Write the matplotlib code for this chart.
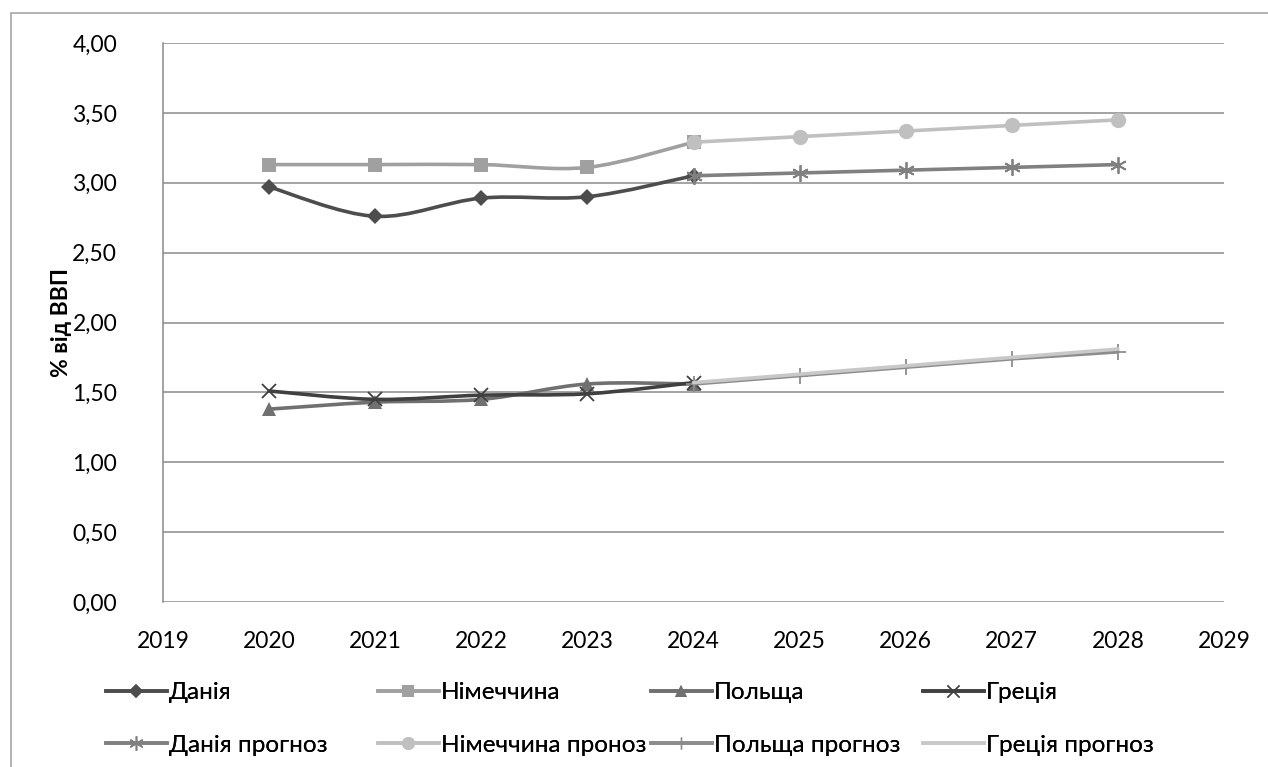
import numpy as np
import matplotlib.pyplot as plt
from matplotlib.path import Path
from matplotlib.patches import PathPatch, Rectangle
from matplotlib.lines import Line2D

plt.rcParams['font.family'] = ['Lato', 'DejaVu Sans']

years_fact = [2020, 2021, 2022, 2023, 2024]
years_fcst = [2024, 2025, 2026, 2027, 2028]

denmark = [2.97, 2.76, 2.89, 2.90, 3.05]
germany = [3.13, 3.13, 3.13, 3.11, 3.29]
poland = [1.38, 1.43, 1.45, 1.56, 1.56]
greece = [1.51, 1.45, 1.48, 1.49, 1.57]

denmark_fcst = [3.05, 3.07, 3.09, 3.11, 3.13]
germany_fcst = [3.29, 3.33, 3.37, 3.41, 3.45]
poland_fcst = [1.56, 1.62, 1.68, 1.74, 1.79]
greece_fcst = [1.57, 1.63, 1.69, 1.75, 1.81]

names = ['Данія', 'Німеччина', 'Польща', 'Греція',
         'Данія прогноз', 'Німеччина проноз', 'Польща прогноз', 'Греція прогноз']

y_ticks = [0, 0.5, 1.0, 1.5, 2.0, 2.5, 3.0, 3.5, 4.0]
x_ticks = list(range(2019, 2030))


def smooth_path(xs, ys):
    # cubic bezier through the points, like a spreadsheet "smoothed line"
    pts = np.column_stack([xs, ys]).astype(float)
    n = len(pts)
    verts = [pts[0]]
    codes = [Path.MOVETO]
    for i in range(n - 1):
        p0 = pts[max(i - 1, 0)]
        p1 = pts[i]
        p2 = pts[i + 1]
        p3 = pts[min(i + 2, n - 1)]
        c1 = p1 + (p2 - p0) / 6.0
        c2 = p2 - (p3 - p1) / 6.0
        verts += [c1, c2, p2]
        codes += [Path.CURVE4] * 3
    return Path(verts, codes)


def is_line_marker(mk):
    return mk in ('x', '+') or isinstance(mk, tuple)


fig = plt.figure(figsize=(12.68, 7.67), dpi=100)
ax = fig.add_axes([163 / 1268, 1 - 602 / 767, (1224 - 163) / 1268, (602 - 43) / 767])

# outer chart frame (top and left edges visible)
fig.patches.append(Rectangle((11 / 1268, -0.1), 1.2, 1 - 13 / 767 + 0.1,
                             transform=fig.transFigure, fill=False,
                             edgecolor='#a6a6a6', lw=1.2))

styles = [
    dict(color='#4d4d4d', marker='D', ms=8),
    dict(color='#a0a0a0', marker='s', ms=10),
    dict(color='#707070', marker='^', ms=10),
    dict(color='#404040', marker='x', ms=10),
    dict(color='#808080', marker=(6, 2, 0), ms=12),
    dict(color='#c0c0c0', marker='o', ms=11),
    dict(color='#8c8c8c', marker='+', ms=11),
    dict(color='#c8c8c8', marker='None', ms=0),
]

series = [(years_fact, denmark), (years_fact, germany), (years_fact, poland), (years_fact, greece),
          (years_fcst, denmark_fcst), (years_fcst, germany_fcst), (years_fcst, poland_fcst),
          (years_fcst, greece_fcst)]

handles = []
for k, ((xs, ys), st) in enumerate(zip(series, styles)):
    z = 3 + k
    if k < 4:
        ax.add_patch(PathPatch(smooth_path(xs, ys), fill=False, edgecolor=st['color'],
                               lw=2.6, zorder=z, capstyle='round', joinstyle='round'))
    else:
        ax.plot(xs, ys, color=st['color'], lw=2.6, zorder=z, solid_capstyle='round')
    if st['marker'] != 'None':
        ax.plot(xs, ys, linestyle='none', marker=st['marker'], ms=st['ms'],
                color=st['color'], mec=st['color'],
                mew=1.3 if is_line_marker(st['marker']) else 0, zorder=z + 0.5)
    handles.append(Line2D([], [], color=st['color'], lw=2.6, marker=st['marker'],
                          ms=st['ms'] * 0.85, mec=st['color'],
                          mew=1.0 if is_line_marker(st['marker']) else 0))

ax.set_xlim(2019, 2029)
ax.set_ylim(0, 4)
ax.set_xticks(x_ticks)
ax.set_xticklabels([str(x) for x in x_ticks])
ax.set_yticks(y_ticks)
ax.set_yticklabels([f'{v:.2f}'.replace('.', ',') for v in y_ticks])
ax.tick_params(axis='both', length=0, labelsize=16.5, colors='black')
ax.tick_params(axis='y', pad=33)
ax.tick_params(axis='x', pad=21)

ax.grid(axis='y', color='#8a8a8a', lw=1.1)
ax.set_axisbelow(True)
for side in ('top', 'right', 'bottom'):
    ax.spines[side].set_visible(False)
ax.spines['left'].set_color('#8a8a8a')
ax.spines['left'].set_linewidth(1.1)

ax.set_ylabel('% від ВВП', fontsize=16.5, fontweight='bold')
ax.yaxis.set_label_coords(-0.086, 0.5)

# legend: four columns, fact series on the first row, forecasts on the second
col_x = [106, 378, 651, 923]
for c, x0 in enumerate(col_x):
    leg = fig.legend([handles[c], handles[c + 4]], [names[c], names[c + 4]],
                     loc='upper left', bbox_to_anchor=(x0 / 1268, 1 - 682 / 767),
                     frameon=False, fontsize=17.5, handlelength=2.5, handletextpad=0.1,
                     labelspacing=1.3, borderaxespad=0, borderpad=0)
    fig.add_artist(leg)

fig.savefig('out.png', dpi=100)
